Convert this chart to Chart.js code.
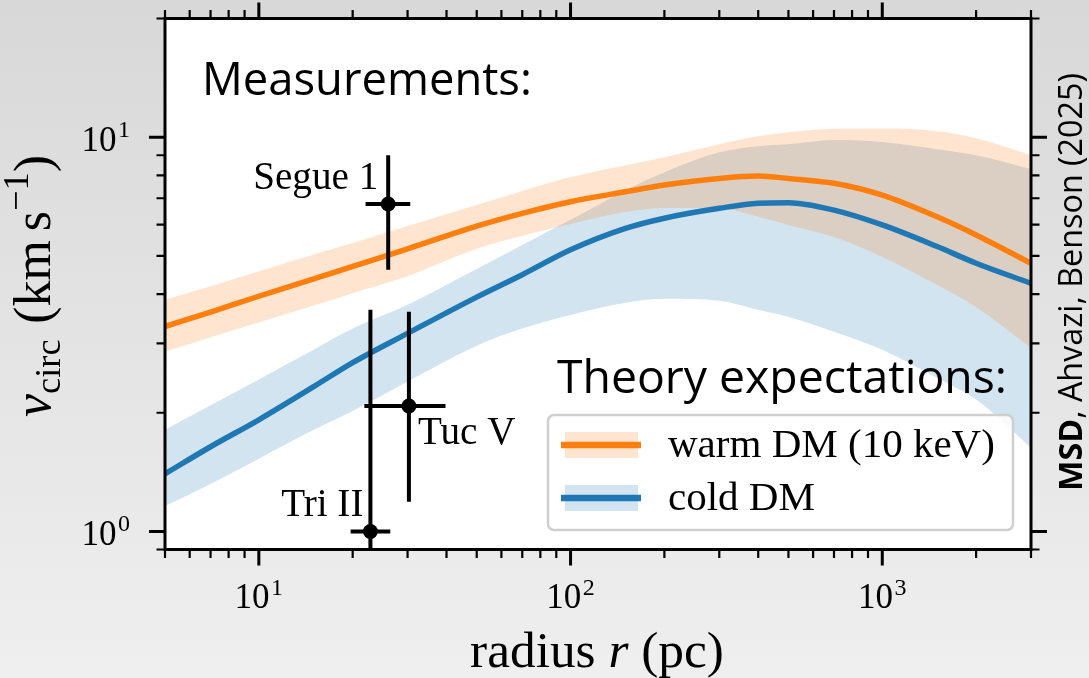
<!DOCTYPE html>
<html><head><meta charset="utf-8">
<script src="https://cdn.jsdelivr.net/npm/chart.js@4"></script>
<style>
html,body{margin:0;padding:0;width:1089px;height:678px;overflow:hidden;background:linear-gradient(to bottom,#d8d8d8 0%,#efefef 100%);}
canvas{display:block;}
</style></head><body>
<canvas id="c" width="1089" height="678"></canvas>
<script>
// ---------- data ----------
const radius      = [5, 7, 10, 15, 20, 30, 50, 70, 100, 150, 200, 300, 400, 500, 700, 1000, 1500, 2000, 3000];
const warmMedian  = [3.31, 3.60, 3.95, 4.37, 4.70, 5.21, 5.95, 6.41, 6.86, 7.27, 7.56, 7.86, 7.97, 7.86, 7.64, 7.13, 6.28, 5.65, 4.79];
const warmUpper   = [3.87, 4.19, 4.57, 5.04, 5.39, 5.95, 6.73, 7.30, 7.92, 8.49, 8.90, 9.60, 10.06, 10.30, 10.51, 10.52, 10.36, 9.94, 9.00];
const warmLower   = [2.86, 3.11, 3.39, 3.74, 4.02, 4.44, 5.21, 5.62, 6.02, 6.46, 6.61, 6.60, 6.28, 5.99, 5.58, 4.97, 4.22, 3.71, 2.92];
const coldMedian  = [1.40, 1.64, 1.92, 2.33, 2.68, 3.18, 3.93, 4.48, 5.18, 5.87, 6.23, 6.60, 6.80, 6.82, 6.53, 5.99, 5.28, 4.79, 4.26];
const coldUpper   = [1.81, 2.09, 2.43, 2.89, 3.27, 3.76, 4.63, 5.33, 6.17, 7.34, 8.15, 9.16, 9.49, 9.59, 9.83, 9.72, 9.32, 9.00, 8.30];
const coldLower   = [1.16, 1.32, 1.53, 1.81, 2.02, 2.40, 2.96, 3.27, 3.54, 3.80, 3.89, 3.85, 3.65, 3.50, 3.21, 2.89, 2.45, 2.16, 1.63];

const galaxyNames = ['Segue 1', 'Tuc V', 'Tri II'];
const galaxyR     = [26.0, 30.3, 22.8];
const galaxyRLo   = [22.0, 21.8, 19.7];
const galaxyRHi   = [30.6, 39.7, 26.4];
const galaxyV     = [6.77, 2.08, 1.00];
const galaxyVLo   = [4.61, 1.19, 0.50];
const galaxyVHi   = [9.00, 3.61, 3.65];

const xMajorTicks = [10, 100, 1000];
const yMajorTicks = [1, 10];
const xRange = [5, 3000];
const yRange = [0.9, 20];
const legendLabels = ['warm DM (10 keV)', 'cold DM'];

// ---------- styling ----------
const ORANGE = '#ff7f0e', BLUE = '#1f77b4';
const ORANGE_FILL = 'rgba(255,127,14,0.2)', BLUE_FILL = 'rgba(31,119,180,0.2)';
const SERIF = '"Liberation Serif","DejaVu Serif",serif';
const SANS = '"Open Sans","Noto Sans",sans-serif';

const pts = (ys) => radius.map((r, i) => ({x: r, y: ys[i]}));

const datasets = [];
datasets.push({data: galaxyR.map((r, i) => ({x: r, y: galaxyV[i]})), showLine: false,
  pointRadius: 7.5, pointBackgroundColor: '#000', pointBorderWidth: 0, clip: 0});
galaxyNames.forEach((n, i) => {
  datasets.push({data: [{x: galaxyR[i], y: galaxyVLo[i]}, {x: galaxyR[i], y: galaxyVHi[i]}],
    showLine: true, borderColor: '#000', borderWidth: 4, pointRadius: 0, clip: 0});
  datasets.push({data: [{x: galaxyRLo[i], y: galaxyV[i]}, {x: galaxyRHi[i], y: galaxyV[i]}],
    showLine: true, borderColor: '#000', borderWidth: 4, pointRadius: 0, clip: 0});
});
const lineCommon = {showLine: true, pointRadius: 0, cubicInterpolationMode: 'monotone', clip: 0};
datasets.push(Object.assign({data: pts(warmMedian), borderColor: ORANGE, borderWidth: 5.5}, lineCommon));
datasets.push(Object.assign({data: pts(coldMedian), borderColor: BLUE, borderWidth: 5.5}, lineCommon));
datasets.push(Object.assign({data: pts(warmUpper), borderWidth: 0, fill: '+1', backgroundColor: ORANGE_FILL}, lineCommon));
datasets.push(Object.assign({data: pts(warmLower), borderWidth: 0, fill: false}, lineCommon));
datasets.push(Object.assign({data: pts(coldUpper), borderWidth: 0, fill: '+1', backgroundColor: BLUE_FILL}, lineCommon));
datasets.push(Object.assign({data: pts(coldLower), borderWidth: 0, fill: false}, lineCommon));

// ---------- text helpers ----------
function fontOf(r, S) {
  return `${r.style || 'normal'} ${r.weight || 'normal'} ${(S * (r.scale || 1)).toFixed(2)}px ${r.family || SERIF}`;
}
function runsWidth(ctx, runs, S) {
  let w = 0;
  runs.forEach(r => { ctx.font = fontOf(r, S); w += ctx.measureText(r.t).width + (r.gap || 0) * S; });
  return w;
}
function fitSize(ctx, runs, w) { return 100 * w / runsWidth(ctx, runs, 100); }
function drawRuns(ctx, runs, S, x, y) {
  runs.forEach(r => {
    ctx.font = fontOf(r, S);
    ctx.fillText(r.t, x, y + (r.dy || 0) * S);
    x += ctx.measureText(r.t).width + (r.gap || 0) * S;
  });
}
function drawPow(ctx, exp, x, y, align) {
  ctx.font = `35px ${SERIF}`; const w1 = ctx.measureText('10').width;
  ctx.font = `24px ${SERIF}`; const w2 = ctx.measureText(String(exp)).width;
  const gap = 1.5, W = w1 + gap + w2;
  const x0 = align === 'right' ? x - W : x - W / 2;
  ctx.font = `35px ${SERIF}`; ctx.fillText('10', x0, y);
  ctx.font = `24px ${SERIF}`; ctx.fillText(String(exp), x0 + w1 + gap, y - 13.5);
}
function minorTicks(range, majors) {
  const out = [];
  for (let e = -2; e <= 5; e++) for (let m = 1; m <= 9; m++) {
    const v = parseFloat((m * Math.pow(10, e)).toPrecision(6));
    if (v >= range[0] * (1 - 1e-9) && v <= range[1] * (1 + 1e-9) && !majors.includes(v)) out.push(v);
  }
  return out;
}

const decor = {
  id: 'decor',
  beforeDraw(chart) {
    const {ctx, chartArea: a} = chart;
    ctx.save(); ctx.fillStyle = '#fff';
    ctx.fillRect(a.left, a.top, a.right - a.left, a.bottom - a.top);
    ctx.restore();
  },
  afterDraw(chart) {
    const {ctx, chartArea: a} = chart;
    const xs = chart.scales.x, ys = chart.scales.y;
    ctx.save();
    ctx.fillStyle = '#000'; ctx.strokeStyle = '#000'; ctx.textBaseline = 'alphabetic'; ctx.textAlign = 'left';

    ctx.lineWidth = 3;
    ctx.strokeRect(a.left, a.top, a.right - a.left, a.bottom - a.top);

    const tick = (vals, isX, len, lw) => {
      ctx.lineWidth = lw; ctx.lineCap = 'butt';
      vals.forEach(v => {
        ctx.beginPath();
        if (isX) {
          const p = xs.getPixelForValue(v);
          ctx.moveTo(p, a.bottom); ctx.lineTo(p, a.bottom + len);
          ctx.moveTo(p, a.top); ctx.lineTo(p, a.top - len);
        } else {
          const p = ys.getPixelForValue(v);
          ctx.moveTo(a.left, p); ctx.lineTo(a.left - len, p);
          ctx.moveTo(a.right, p); ctx.lineTo(a.right + len, p);
        }
        ctx.stroke();
      });
    };
    tick(xMajorTicks, true, 16, 3);
    tick(minorTicks(xRange, xMajorTicks), true, 8.5, 2.2);
    tick(yMajorTicks, false, 16, 3);
    tick(minorTicks(yRange, yMajorTicks), false, 8.5, 2.2);

    xMajorTicks.forEach(v => drawPow(ctx, Math.round(Math.log10(v)), xs.getPixelForValue(v), 608, 'center'));
    yMajorTicks.forEach(v => drawPow(ctx, Math.round(Math.log10(v)), 130, ys.getPixelForValue(v) + 13.5, 'right'));

    const xt = [{t: 'radius '}, {t: 'r', style: 'italic'}, {t: ' (pc)'}];
    const xS = fitSize(ctx, xt, 254);
    drawRuns(ctx, xt, xS, 597 - runsWidth(ctx, xt, xS) / 2, 667);

    const yt = [{t: 'v', style: 'italic'}, {t: 'circ', scale: 0.7, dy: 0.2, gap: 0.3}, {t: '(km', gap: 0.17},
                {t: 's'}, {t: '\u22121', scale: 0.7, dy: -0.42}, {t: ')'}];
    const yS = fitSize(ctx, yt, 262);
    ctx.save(); ctx.translate(50, 286); ctx.rotate(-Math.PI / 2);
    drawRuns(ctx, yt, yS, -runsWidth(ctx, yt, yS) / 2, 0);
    ctx.restore();

    const aS = fitSize(ctx, [{t: galaxyNames[0]}], 125);
    ctx.font = `${aS.toFixed(2)}px ${SERIF}`;
    const labelPos = [{dx: -10, dy: -15, align: 'right'}, {dx: 9, dy: 38, align: 'left'}, {dx: -7, dy: -15, align: 'right'}];
    galaxyNames.forEach((n, i) => {
      const px = xs.getPixelForValue(galaxyR[i]), py = ys.getPixelForValue(galaxyV[i]);
      ctx.textAlign = labelPos[i].align;
      ctx.fillText(n, px + labelPos[i].dx, py + labelPos[i].dy);
    });
    ctx.textAlign = 'left';

    const L = {x: 548, y: 415, w: 465, h: 115, r: 6};
    ctx.beginPath();
    ctx.roundRect(L.x, L.y, L.w, L.h, L.r);
    ctx.fillStyle = 'rgba(255,255,255,0.85)'; ctx.fill();
    ctx.lineWidth = 2.5; ctx.strokeStyle = '#cfcfcf'; ctx.stroke();
    const lS = fitSize(ctx, [{t: legendLabels[0]}], 327);
    const entries = [{fill: ORANGE_FILL, line: ORANGE, cy: 445}, {fill: BLUE_FILL, line: BLUE, cy: 498}];
    entries.forEach((e, i) => {
      ctx.fillStyle = e.fill; ctx.fillRect(565, e.cy - 13, 73, 26);
      ctx.strokeStyle = e.line; ctx.lineWidth = 6.5; ctx.lineCap = 'butt';
      ctx.beginPath(); ctx.moveTo(561, e.cy); ctx.lineTo(641, e.cy); ctx.stroke();
      ctx.fillStyle = '#000'; ctx.font = `${lS.toFixed(2)}px ${SERIF}`;
      ctx.fillText(legendLabels[i], 668, e.cy + 12);
    });

    ctx.fillStyle = '#000';
    const m = [{t: 'Measurements:', family: SANS}];
    drawRuns(ctx, m, fitSize(ctx, m, 330), 202, 95);
    const th = [{t: 'Theory expectations:', family: SANS}];
    drawRuns(ctx, th, fitSize(ctx, th, 450), 557, 393);

    const cr = [{t: 'MSD', weight: 'bold', family: SANS}, {t: ', Ahvazi, Benson (2025)', family: SANS}];
    const cS = fitSize(ctx, cr, 418);
    ctx.save(); ctx.translate(1082, 282); ctx.rotate(-Math.PI / 2);
    drawRuns(ctx, cr, cS, -runsWidth(ctx, cr, cS) / 2, 0);
    ctx.restore();

    ctx.restore();
  }
};

new Chart(document.getElementById('c'), {
  type: 'scatter',
  data: {datasets},
  options: {
    responsive: false, animation: false, events: [],
    layout: {padding: {left: 165, right: 58, top: 18.5, bottom: 128.5}},
    plugins: {legend: {display: false}, tooltip: {enabled: false}, filler: {propagate: false}},
    scales: {
      x: {type: 'logarithmic', min: xRange[0], max: xRange[1], display: false},
      y: {type: 'logarithmic', min: yRange[0], max: yRange[1], display: false}
    }
  },
  plugins: [decor]
});
</script>
</body></html>
